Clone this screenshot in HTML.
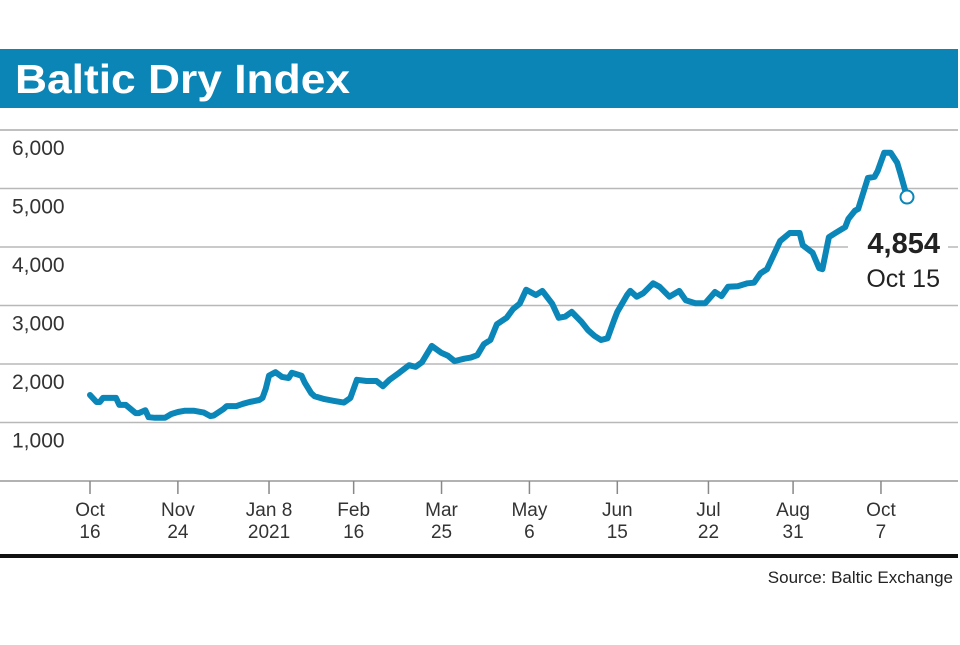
<!DOCTYPE html>
<html><head><meta charset="utf-8"><style>
body{margin:0;background:#fff;width:960px;height:640px;overflow:hidden;font-family:"Liberation Sans",sans-serif;}
</style></head><body>
<svg width="960" height="640">
<rect x="0" y="49" width="958" height="59" fill="#0b84b6"/>
<text x="15" y="93" font-size="41" font-weight="bold" fill="#fff" textLength="335" lengthAdjust="spacingAndGlyphs">Baltic Dry Index</text>
<g id="grid"></g><g id="xaxis"></g>
<path id="line" fill="none" stroke="#0a86b8" stroke-width="6" stroke-linejoin="round" stroke-linecap="round"/>
<circle id="endpt" r="6.5" fill="#fff" stroke="#0a86b8" stroke-width="2"/>
<rect x="848" y="228" width="100" height="28" fill="#fff"/>
<text id="lastval" x="940" y="253" text-anchor="end" font-size="29" font-weight="bold" fill="#222"></text>
<text x="940" y="287" text-anchor="end" font-size="25" fill="#222">Oct 15</text>
<rect x="0" y="554" width="958" height="4" fill="#111"/>
<text x="953" y="583" text-anchor="end" font-size="17" fill="#222">Source: Baltic Exchange</text>
</svg>
<script>
const yTicks=[0,1000,2000,3000,4000,5000,6000];
const yTickLabels=["","1,000","2,000","3,000","4,000","5,000","6,000"];
const xTickDays=[0,27,55,81,108,135,162,190,216,243];
const xTickLine1=["Oct","Nov","Jan 8","Feb","Mar","May","Jun","Jul","Aug","Oct"];
const xTickLine2=["16","24","2021","16","25","6","15","22","31","7"];
const days=[0,2,3,4,8,9,11,14,15,17,18,20,23,25,27,29,32,35,37,38,41,42,45,47,49,52,53,54,55,57,59,61,62,65,66,68,69,72,75,78,80,82,85,88,90,92,95,98,100,102,105,108,110,112,115,117,119,121,123,125,128,130,132,134,137,139,142,144,146,148,151,153,155,157,159,161,162,165,166,168,170,173,175,178,181,183,186,189,192,194,196,199,202,204,206,208,212,215,218,219,222,224,225,227,229,232,233,235,236,239,241,242,244,246,248,249,251];
const values=[1470,1350,1350,1420,1420,1300,1300,1160,1160,1210,1090,1080,1080,1145,1180,1200,1200,1170,1110,1120,1230,1280,1280,1320,1350,1385,1420,1580,1800,1860,1780,1760,1850,1800,1680,1500,1450,1400,1370,1340,1420,1730,1710,1710,1620,1730,1850,1980,1950,2030,2310,2190,2140,2050,2090,2110,2150,2340,2410,2680,2790,2940,3030,3270,3180,3250,3030,2790,2810,2890,2720,2580,2480,2410,2440,2750,2890,3180,3250,3150,3210,3380,3320,3150,3250,3090,3040,3040,3230,3160,3320,3330,3380,3390,3550,3620,4100,4240,4240,4030,3900,3640,3620,4170,4240,4340,4480,4620,4650,5180,5200,5300,5610,5610,5440,5250,4854];
const NS="http://www.w3.org/2000/svg";
const xS=d=>90+d*(817/251);
const yS=v=>481-v*0.0585;
const grid=document.getElementById('grid');
yTicks.forEach((t,i)=>{
 const l=document.createElementNS(NS,'line');
 l.setAttribute('x1',0);l.setAttribute('x2',958);l.setAttribute('y1',yS(t));l.setAttribute('y2',yS(t));
 l.setAttribute('stroke',t===0?'#999':'#b8b8b8');l.setAttribute('stroke-width',1.6);
 
 
 grid.appendChild(l);
 if(yTickLabels[i]){
  const tx=document.createElementNS(NS,'text');
  tx.setAttribute('x',12);tx.setAttribute('y',yS(t)+25);tx.setAttribute('font-size',21);tx.setAttribute('fill','#333');
  tx.textContent=yTickLabels[i];
  
  
  grid.appendChild(tx);
 }
});
const topLine=document.createElementNS(NS,'line');
topLine.setAttribute('x1',0);topLine.setAttribute('x2',958);topLine.setAttribute('y1',130);topLine.setAttribute('y2',130);topLine.setAttribute('stroke','#b8b8b8');topLine.setAttribute('stroke-width',1.6);


grid.appendChild(topLine);
const xa=document.getElementById('xaxis');
xTickDays.forEach((d,i)=>{
 const l=document.createElementNS(NS,'line');
 l.setAttribute('x1',xS(d));l.setAttribute('x2',xS(d));l.setAttribute('y1',481);l.setAttribute('y2',494);
 l.setAttribute('stroke','#888');l.setAttribute('stroke-width',1.5);
 
 
 xa.appendChild(l);
 [xTickLine1[i],xTickLine2[i]].forEach((s,j)=>{
  const t=document.createElementNS(NS,'text');
  t.setAttribute('x',xS(d));t.setAttribute('y',516+j*22);t.setAttribute('text-anchor','middle');t.setAttribute('font-size',19);t.setAttribute('fill','#333');
  t.textContent=s;
  
  
  xa.appendChild(t);
 });
});
document.getElementById('line').setAttribute('d',days.map((d,i)=>(i?'L':'M')+xS(d).toFixed(1)+','+yS(values[i]).toFixed(1)).join(''));
const n=days.length-1;
const c=document.getElementById('endpt');c.setAttribute('cx',xS(days[n]));c.setAttribute('cy',yS(values[n]));
document.getElementById('lastval').textContent=values[n].toLocaleString('en-US');
</script>
</body></html>
